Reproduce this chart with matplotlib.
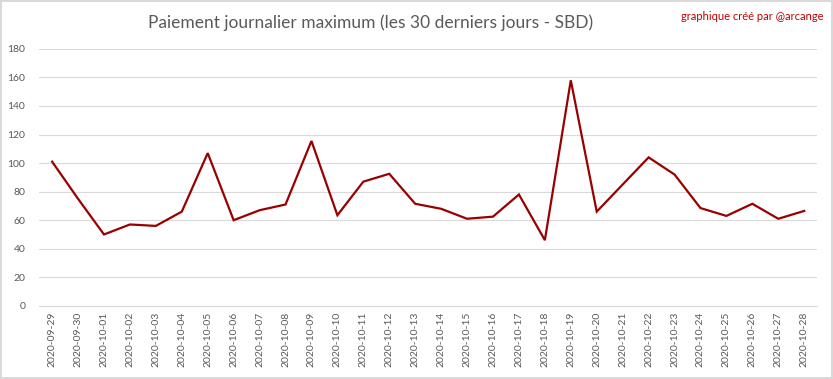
import matplotlib
matplotlib.use("Agg")
import matplotlib.pyplot as plt

# Données
dates = ["2020-09-29", "2020-09-30", "2020-10-01", "2020-10-02", "2020-10-03",
         "2020-10-04", "2020-10-05", "2020-10-06", "2020-10-07", "2020-10-08",
         "2020-10-09", "2020-10-10", "2020-10-11", "2020-10-12", "2020-10-13",
         "2020-10-14", "2020-10-15", "2020-10-16", "2020-10-17", "2020-10-18",
         "2020-10-19", "2020-10-20", "2020-10-21", "2020-10-22", "2020-10-23",
         "2020-10-24", "2020-10-25", "2020-10-26", "2020-10-27", "2020-10-28"]
max_payout = [101, 75, 50, 57, 56, 66, 107, 60, 67, 71,
              115.5, 63.5, 87, 92.5, 71.5, 68, 61, 62.5, 78, 46,
              158, 66, 85, 104, 92, 68.5, 63, 71.5, 61, 66.5]

title = "Paiement journalier maximum (les 30 derniers jours - SBD)"
credit = "graphique créé par @arcange"

plt.rcParams['font.family'] = ['Lato', 'DejaVu Sans']

fig = plt.figure(figsize=(8.33, 3.79), dpi=100)
fig.patch.set_facecolor('white')
fig.patch.set_edgecolor('#D9D9D9')
fig.patch.set_linewidth(1.5)

ax = fig.add_axes([0.047, 0.193, 0.934, 0.678])
x = list(range(len(dates)))
ax.plot(x, max_payout, color='#990000', linewidth=1.6, solid_joinstyle='miter')

ax.set_xlim(-0.5, len(dates) - 0.5)
ax.set_ylim(0, 180)
ax.set_yticks(range(0, 181, 20))
ax.set_xticks(x)
ax.set_xticklabels(dates, rotation=90)

ax.grid(axis='y', color='#D9D9D9', linewidth=0.8)
ax.set_axisbelow(True)
for side in ['left', 'right', 'top']:
    ax.spines[side].set_visible(False)
ax.spines['bottom'].set_color('#D9D9D9')
ax.spines['bottom'].set_linewidth(0.8)
ax.tick_params(axis='both', length=0, colors='#595959', labelsize=7.5)
ax.tick_params(axis='y', pad=10)
ax.tick_params(axis='x', pad=4)

fig.text(0.445, 0.94, title, ha='center', va='center', fontsize=12.5, color='#595959')
fig.text(0.989, 0.957, credit, ha='right', va='center', fontsize=8, color='#C00000')

fig.savefig("out.png", dpi=100)
